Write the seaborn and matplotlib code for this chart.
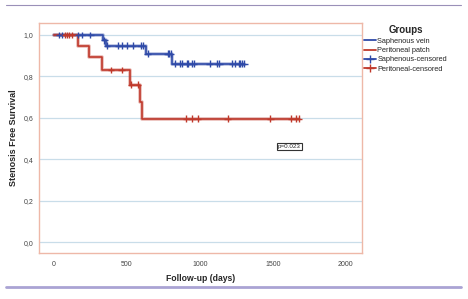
import matplotlib
matplotlib.use("Agg")
import matplotlib.pyplot as plt
import matplotlib.patheffects as pe
from matplotlib.lines import Line2D
import seaborn as sns
import pandas as pd

# ---- data ----
sap_times = [0, 335, 355, 633, 811, 1305]
sap_surv = [1.0, 0.974, 0.949, 0.91, 0.862, 0.862]
sap_cens_t = [35, 55, 165, 195, 250, 345, 362, 437, 468, 499, 540, 594, 610,
              642, 779, 786, 799, 826, 861, 874, 908, 915, 943, 956, 1066,
              1120, 1134, 1223, 1243, 1270, 1277, 1291, 1305]
sap_cens_s = [1.0] * 5 + [0.974] + [0.949] * 7 + [0.91] * 4 + [0.862] * 16

per_times = [0, 164, 240, 328, 519, 587, 605, 1680]
per_surv = [1.0, 0.946, 0.892, 0.832, 0.76, 0.675, 0.597, 0.597]
per_cens_t = [75, 89, 102, 123, 390, 464, 530, 575, 907, 943, 984, 1189,
              1482, 1626, 1660, 1680]
per_cens_s = [1.0] * 4 + [0.832] * 2 + [0.76] * 2 + [0.597] * 8

x_ticks = [0, 500, 1000, 1500, 2000]
y_ticks = [0.0, 0.2, 0.4, 0.6, 0.8, 1.0]
y_tick_labels = ["0,0", "0,2", "0,4", "0,6", "0,8", "1,0"]
group_labels = ["Saphenous vein", "Peritoneal patch",
                "Saphenous-censored", "Peritoneal-censored"]
p_text = "p=0.023"

blue = "#2f4aa8"
red = "#c0392b"

sns.set_theme(style="white")
plt.rcParams['font.family'] = ['Liberation Sans', 'DejaVu Sans']

fig = plt.figure(figsize=(4.68, 2.99), dpi=100)
ax = fig.add_axes([0.0833, 0.154, 0.690, 0.769])

curves = pd.DataFrame({
    "t": sap_times + per_times,
    "s": sap_surv + per_surv,
    "g": ["Saphenous vein"] * len(sap_times) + ["Peritoneal patch"] * len(per_times),
})
halo = [pe.Stroke(linewidth=2.6, alpha=0.35), pe.Normal()]
sns.lineplot(data=curves, x="t", y="s", hue="g",
             palette={"Saphenous vein": blue, "Peritoneal patch": red},
             estimator=None, sort=False, drawstyle="steps-post",
             linewidth=1.2, legend=False, ax=ax, path_effects=halo)

cens = pd.DataFrame({
    "t": sap_cens_t + per_cens_t,
    "s": sap_cens_s + per_cens_s,
    "g": ["s"] * len(sap_cens_t) + ["p"] * len(per_cens_t),
})
sns.scatterplot(data=cens, x="t", y="s", hue="g",
                palette={"s": blue, "p": red}, marker="+", s=22,
                linewidth=1.0, legend=False, ax=ax, zorder=4)

ax.set_xlim(-103, 2110)
ax.set_ylim(-0.052, 1.058)
ax.set_xticks(x_ticks)
ax.set_xticklabels([str(v) for v in x_ticks])
ax.set_yticks(y_ticks)
ax.set_yticklabels(y_tick_labels)
ax.tick_params(axis="both", labelsize=5, colors="#444444", length=0, pad=4)
ax.tick_params(axis="x", pad=6)
ax.grid(axis="y", color="#c9dde9", linewidth=0.9)
ax.grid(axis="x", visible=False)
for sp in ax.spines.values():
    sp.set_color("#eeb8a8")
    sp.set_linewidth(1.0)

ax.set_xlabel("Follow-up (days)", fontsize=6.2, fontweight="bold", labelpad=4)
ax.set_ylabel("Stenosis Free Survival", fontsize=6.5, fontweight="bold", labelpad=4)

ax.text(1612, 0.463, p_text, fontsize=4.5, ha="center", va="center",
        bbox=dict(boxstyle="square,pad=0.15", fc="white", ec="#333333", lw=0.8))

handles = [
    Line2D([0], [0], color=blue, lw=1.3),
    Line2D([0], [0], color=red, lw=1.3),
    Line2D([0], [0], color=blue, lw=1.3, marker="+", markersize=6),
    Line2D([0], [0], color=red, lw=1.3, marker="+", markersize=6),
]
leg = fig.legend(handles, group_labels, loc="upper left",
                 bbox_to_anchor=(0.772, 0.925), frameon=False,
                 fontsize=5.3, title="Groups", handlelength=1.6,
                 handletextpad=0.2, labelspacing=0.3, borderaxespad=0)
leg.get_title().set_fontweight("bold")
leg.get_title().set_fontsize(7)

fig.add_artist(Line2D([0.013, 0.985], [0.983, 0.983], color="#9a90b8", lw=0.8,
                      transform=fig.transFigure))
fig.add_artist(Line2D([0.013, 0.985], [0.04, 0.04], color="#aaa3d4", lw=2.0,
                      transform=fig.transFigure))

fig.savefig("out.png", dpi=100)
